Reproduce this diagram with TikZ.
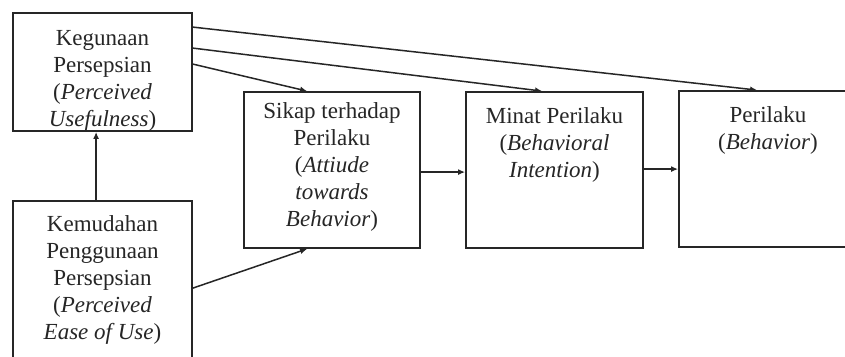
\documentclass[tikz,border=0pt]{standalone}
\usepackage{fontspec}
\setmainfont{Liberation Serif}
\usetikzlibrary{arrows.meta,calc}
\tikzset{
  box/.style={draw=black!85, line width=1.8pt, inner sep=0pt},
  lbl/.style={font=\fontsize{23}{27}\selectfont, align=center, anchor=north, inner sep=0pt, text=black!85},
  arr/.style={draw=black!85, line width=1.5pt, -{Latex[length=7pt,width=6pt]}}
}
\begin{document}
\begin{tikzpicture}[x=1pt,y=-1pt]
\useasboundingbox (0,0) rectangle (845,356);
\clip (0,0) rectangle (845,356);
\fill[white] (0,0) rectangle (845,356);
% boxes
\node[box, minimum width=179pt, minimum height=118pt] (kp) at (102.5,72) {};
\node[box, minimum width=179pt, minimum height=179pt] (kpp) at (102.5,290.5) {};
\node[box, minimum width=176pt, minimum height=156pt] (sikap) at (332,170) {};
\node[box, minimum width=177pt, minimum height=156pt] (minat) at (554.5,170) {};
\node[box, minimum width=178pt, minimum height=156pt] (perilaku) at (768,169) {};
% labels
\node[lbl] (kpt) at (102.5,30) {Kegunaan\\Persepsian\\(\textit{Perceived}\\\textit{Usefulness})};
\node[lbl] (kppt) at (102.5,215) {Kemudahan\\Penggunaan\\Persepsian\\(\textit{Perceived}\\\textit{Ease of Use})};
\node[lbl] (sikapt) at (332,102) {Sikap terhadap\\Perilaku\\(\textit{Attiude}\\\textit{towards}\\\textit{Behavior})};
\node[lbl] (minatt) at (554.5,107) {Minat Perilaku\\(\textit{Behavioral}\\\textit{Intention})};
\node[lbl] (perilakut) at (768,106) {Perilaku\\(\textit{Behavior})};
% connectors
\draw[arr] ($(kp.north east)+(0,15)$) -- ($(perilaku.north west)+(79,0)$);
\draw[arr] ($(kp.north east)+(0,36)$) -- ($(minat.north west)+(77,0)$);
\draw[arr] ($(kp.north east)+(0,52)$) -- ($(sikap.north west)+(64,0)$);
\draw[arr] ($(kpp.north west)+(84,0)$) -- ($(kp.south west)+(84,0)$);
\draw[arr] ($(kpp.north east)+(0,88)$) -- ($(sikap.south west)+(64,0)$);
\draw[arr] ($(sikap.north east)+(0,81)$) -- ($(minat.north west)+(0,81)$);
\draw[arr] ($(minat.north east)+(0,78)$) -- ($(perilaku.north west)+(0,79)$);
\end{tikzpicture}
\end{document}
